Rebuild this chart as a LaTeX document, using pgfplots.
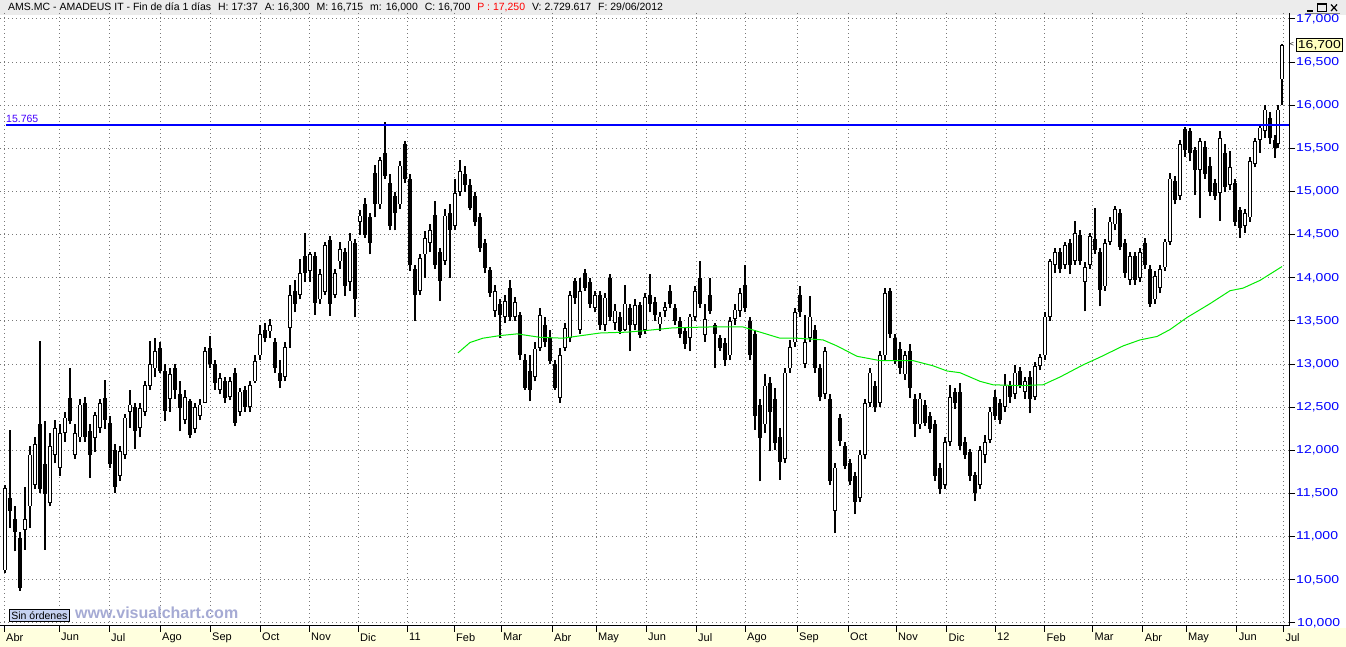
\documentclass[border=0pt]{standalone}
\usepackage{pgfplots}
\pgfplotsset{compat=1.18}
\usepackage{pgfplotstable}
\usepackage{fontspec}
\setmainfont{Liberation Sans}
\newfontfamily\ticfont[FakeStretch=1.22]{Liberation Sans}
\definecolor{vcblue}{RGB}{0,0,255}
\definecolor{lineblue}{RGB}{0,0,255}
\definecolor{lblblue}{RGB}{70,0,255}
\definecolor{gridgray}{RGB}{120,120,120}
\definecolor{stripyellow}{RGB}{255,255,222}
\definecolor{headgray}{RGB}{236,236,236}
\definecolor{magreen}{RGB}{0,235,0}
\definecolor{tagyellow}{RGB}{255,255,190}
\definecolor{sinblue}{RGB}{198,210,242}
\definecolor{wwwgray}{RGB}{165,170,212}

\pgfplotstableread{
x o h l c
5 10.61 11.60 10.58 11.56
10 11.45 12.24 11.10 11.30
15 11.20 11.35 10.83 11.05
20 10.98 11.05 10.37 10.40
25 11.08 11.57 10.85 11.20
30 11.35 12.05 11.10 11.95
35 11.60 12.15 11.55 12.07
40 12.30 13.27 11.50 11.55
45 11.84 12.34 10.85 11.49
50 11.39 12.20 11.35 12.05
55 11.95 12.35 11.85 12.26
60 11.80 12.30 11.70 12.20
65 12.20 12.45 12.10 12.38
70 12.61 12.96 12.30 12.34
75 11.95 12.30 11.90 12.20
80 12.15 12.60 12.10 12.53
85 12.55 12.62 12.10 12.15
90 12.22 12.30 11.68 11.95
95 12.14 12.45 11.98 12.41
100 12.26 12.60 12.20 12.55
105 12.61 12.82 12.25 12.35
110 12.32 12.40 11.80 11.84
115 12.00 12.07 11.51 11.58
120 11.70 12.05 11.65 11.99
125 11.95 12.42 11.90 12.38
130 12.45 12.70 12.26 12.53
135 12.50 12.55 12.01 12.22
140 12.26 12.55 12.15 12.49
145 12.45 12.80 12.40 12.76
150 12.75 13.27 12.70 13.00
155 12.95 13.30 12.85 13.15
160 13.19 13.25 12.90 12.92
165 12.92 13.00 12.34 12.46
170 12.60 12.95 12.45 12.88
175 12.96 13.00 12.60 12.70
180 12.65 12.80 12.22 12.49
185 12.35 12.70 12.30 12.62
190 12.57 12.60 12.14 12.18
195 12.25 12.55 12.20 12.50
200 12.40 12.60 12.35 12.53
205 12.55 13.20 12.55 13.15
210 13.19 13.33 12.95 13.00
215 13.00 13.05 12.70 12.78
220 12.70 12.90 12.65 12.84
225 12.80 12.85 12.55 12.61
230 12.62 12.85 12.58 12.80
235 12.90 12.95 12.28 12.32
240 12.45 12.72 12.40 12.68
245 12.70 12.75 12.45 12.50
250 12.50 12.80 12.45 12.76
255 12.80 13.10 12.78 13.03
260 13.10 13.45 13.05 13.35
265 13.40 13.48 13.25 13.30
270 13.38 13.52 13.30 13.45
275 13.25 13.30 12.90 12.95
280 12.90 13.05 12.72 12.80
285 12.85 13.25 12.80 13.20
290 13.42 13.92 13.19 13.80
295 13.85 13.98 13.60 13.70
300 13.80 14.22 13.75 14.05
305 14.25 14.52 13.95 14.06
310 14.08 14.30 13.95 14.27
315 14.25 14.30 13.57 13.71
320 13.75 14.10 13.70 14.04
325 13.84 14.42 13.80 14.38
330 14.44 14.48 13.56 13.70
335 13.80 14.10 13.76 14.05
340 14.19 14.42 14.10 14.33
345 14.30 14.35 13.79 13.90
350 13.95 14.52 13.85 14.43
355 14.40 14.45 13.54 13.75
360 14.65 14.78 14.50 14.72
365 14.85 14.93 14.46 14.50
370 14.70 14.75 14.27 14.40
375 15.22 15.31 14.70 14.85
380 14.85 15.40 14.80 15.36
385 15.45 15.81 15.15 15.18
390 15.10 15.20 14.55 14.60
395 14.95 15.00 14.55 14.75
400 14.85 15.35 14.80 15.30
405 15.55 15.59 15.10 15.15
410 15.15 15.20 14.08 14.15
415 14.10 14.15 13.50 13.80
420 13.85 14.28 13.80 14.23
425 14.27 14.54 14.00 14.46
430 14.40 14.62 14.30 14.55
435 14.73 14.89 14.10 14.15
440 14.30 14.35 13.73 13.96
445 14.20 14.80 14.15 14.72
450 14.75 14.85 14.00 14.55
455 14.60 15.14 14.55 14.98
460 15.00 15.37 14.95 15.24
465 15.20 15.30 15.00 15.08
470 15.08 15.15 14.78 14.81
475 14.95 15.00 14.60 14.65
480 14.70 14.75 14.30 14.35
485 14.40 14.45 14.05 14.11
490 14.09 14.12 13.78 13.82
495 13.62 13.92 13.55 13.85
500 13.70 13.75 13.30 13.57
505 13.55 13.80 13.48 13.73
510 13.88 13.98 13.50 13.55
515 13.55 13.78 13.50 13.72
520 13.57 13.60 13.05 13.10
525 13.05 13.12 12.70 12.72
530 12.92 13.10 12.57 12.70
535 12.85 13.25 12.80 13.18
540 13.19 13.65 13.15 13.57
545 13.45 13.55 13.20 13.26
550 13.30 13.40 13.00 13.03
555 13.00 13.05 12.70 12.72
560 12.61 13.19 12.55 13.10
565 13.19 13.48 13.15 13.42
570 13.30 13.85 13.25 13.80
575 13.96 14.00 13.70 13.77
580 13.40 14.00 13.35 13.85
585 14.06 14.10 13.85 13.88
590 13.95 14.00 13.65 13.70
595 13.65 13.85 13.60 13.80
600 13.80 13.85 13.40 13.45
605 13.45 13.82 13.38 13.77
610 14.00 14.04 13.50 13.55
615 13.48 13.70 13.40 13.62
620 13.55 13.60 13.35 13.38
625 13.40 13.92 13.38 13.70
630 13.65 13.70 13.15 13.45
635 13.45 13.75 13.40 13.68
640 13.68 13.72 13.30 13.34
645 13.40 13.82 13.35 13.78
650 13.80 14.04 13.60 13.70
655 13.72 13.78 13.50 13.57
660 13.46 13.60 13.38 13.55
665 13.62 13.72 13.55 13.66
670 13.85 13.92 13.65 13.70
675 13.65 13.70 13.45 13.50
680 13.50 13.55 13.30 13.35
685 13.38 13.42 13.18 13.23
690 13.30 13.58 13.15 13.55
695 13.55 13.90 13.50 13.85
700 14.00 14.19 13.65 13.70
705 13.34 13.70 13.26 13.52
710 13.80 14.00 13.58 13.62
715 13.45 13.48 12.96 13.35
720 13.30 13.34 13.15 13.19
725 13.25 13.30 12.98 13.05
730 13.10 13.55 13.05 13.50
735 13.52 13.70 13.45 13.63
740 13.62 13.88 13.55 13.82
745 13.92 14.15 13.60 13.65
750 13.50 13.55 13.05 13.10
755 13.35 13.40 12.24 12.40
760 12.53 12.60 11.64 12.14
765 12.30 12.88 12.20 12.75
770 12.78 12.85 11.99 12.45
775 12.60 12.72 12.00 12.08
780 12.15 12.26 11.66 11.87
785 11.90 12.95 11.85 12.90
790 12.95 13.28 12.90 13.20
795 13.25 13.65 13.20 13.60
800 13.80 13.90 13.55 13.60
805 13.00 13.57 12.95 13.25
810 13.30 13.79 13.25 13.55
815 13.40 13.45 12.90 12.95
820 12.95 13.00 12.57 12.62
825 12.65 13.20 12.60 13.15
830 12.60 12.65 11.60 11.65
835 11.30 11.85 11.04 11.80
840 12.38 12.42 12.05 12.11
845 12.05 12.10 11.78 11.82
850 11.85 11.90 11.60 11.65
855 11.70 11.75 11.26 11.40
860 11.45 12.00 11.40 11.95
865 11.95 12.60 11.90 12.55
870 12.55 12.96 12.50 12.90
875 12.75 12.80 12.45 12.50
880 12.55 13.15 12.50 13.10
885 13.10 13.88 13.05 13.82
890 13.85 13.88 13.30 13.35
895 13.30 13.35 13.00 13.05
900 13.18 13.25 12.88 12.95
905 12.88 13.15 12.82 13.10
910 13.15 13.23 12.61 12.72
915 12.60 12.65 12.16 12.30
920 12.30 12.66 12.25 12.60
925 12.52 12.58 12.28 12.32
930 12.40 12.45 12.20 12.25
935 12.30 12.35 11.65 11.70
940 11.80 11.85 11.49 11.55
945 11.60 12.15 11.55 12.10
950 12.10 12.76 12.05 12.62
955 12.68 12.72 12.48 12.55
960 12.68 12.78 12.00 12.05
965 12.10 12.15 11.90 11.95
970 11.98 12.02 11.65 11.70
975 11.72 11.75 11.41 11.50
980 11.60 12.05 11.55 12.00
985 11.95 12.18 11.85 12.10
990 12.12 12.50 12.08 12.45
995 12.62 12.70 12.35 12.40
1000 12.55 12.60 12.30 12.35
1005 12.50 12.88 12.45 12.75
1010 12.76 12.80 12.55 12.62
1015 12.65 12.99 12.60 12.90
1020 12.92 12.97 12.72 12.76
1025 12.68 12.85 12.60 12.80
1030 12.85 12.92 12.43 12.60
1035 12.62 13.02 12.58 12.98
1040 12.98 13.12 12.93 13.08
1045 13.10 13.60 13.05 13.55
1050 13.55 14.22 13.50 14.19
1055 14.15 14.35 14.05 14.30
1060 14.30 14.35 14.05 14.10
1065 14.15 14.42 14.10 14.38
1070 14.40 14.45 14.04 14.15
1075 14.20 14.66 14.15 14.52
1080 14.50 14.55 14.15 14.20
1085 13.95 14.18 13.61 14.12
1090 14.15 14.52 14.10 14.48
1095 14.45 14.81 14.28 14.32
1100 14.30 14.35 13.67 13.86
1105 13.90 14.45 13.85 14.40
1110 14.42 14.70 14.38 14.65
1115 14.62 14.83 14.55 14.80
1120 14.75 14.80 14.32 14.36
1125 14.40 14.45 14.00 14.05
1130 13.98 14.30 13.92 14.25
1135 14.25 14.30 13.92 13.98
1140 14.00 14.35 13.95 14.30
1145 14.40 14.46 14.10 14.15
1150 14.10 14.15 13.66 13.70
1155 13.75 14.08 13.70 14.02
1160 13.88 14.15 13.82 14.10
1165 14.12 14.45 14.08 14.42
1170 14.42 15.22 14.38 15.15
1175 15.12 15.18 14.85 14.90
1180 14.95 15.60 14.90 15.55
1185 15.72 15.75 15.40 15.48
1190 15.70 15.74 15.35 15.45
1195 15.48 15.52 14.96 15.25
1200 15.25 15.62 14.69 15.58
1205 15.52 15.58 15.15 15.20
1210 15.30 15.40 14.95 15.00
1215 15.10 15.15 14.90 14.95
1220 14.98 15.70 14.66 15.62
1225 15.45 15.55 15.00 15.05
1230 15.08 15.47 15.02 15.28
1235 15.10 15.15 14.60 14.65
1240 14.78 14.82 14.46 14.58
1245 14.60 14.80 14.52 14.75
1250 14.70 15.40 14.65 15.35
1255 15.32 15.62 15.28 15.58
1260 15.60 15.78 15.45 15.74
1265 15.70 16.00 15.62 15.95
1270 15.85 15.92 15.55 15.62
1275 15.60 15.65 15.39 15.50
1278 15.55 16.00 15.50 15.95
1282 16.30 16.715 16.00 16.70
}\candles

\pgfplotstableread{
x v
458 13.13
470 13.25
483 13.30
500 13.33
517 13.35
540 13.31
563 13.30
600 13.36
627 13.37
647 13.39
673 13.42
710 13.43
743 13.43
763 13.36
780 13.30
797 13.30
823 13.28
837 13.21
857 13.09
880 13.04
913 13.04
933 12.98
947 12.92
960 12.90
980 12.80
993 12.76
1020 12.75
1043 12.76
1060 12.85
1083 12.99
1100 13.08
1123 13.21
1140 13.28
1157 13.32
1170 13.40
1187 13.54
1210 13.70
1230 13.85
1243 13.88
1260 13.97
1282 14.13
}\mavg

\begin{document}
\begin{tikzpicture}[x=1pt,y=1pt]
\fill[white] (0,0) rectangle (1346,-647);
\fill[headgray] (0,0) rectangle (1346,-15);
\fill[stripyellow] (0,-628) rectangle (1346,-647);
\node[anchor=west, inner sep=0pt, font=\fontsize{10.5}{12}\selectfont] at (8,-7.5)
 {AMS.MC - AMADEUS IT - Fin de día 1 días\hspace{4pt} H: 17:37\hspace{4pt} A: 16,300\hspace{4pt} M: 16,715\hspace{4pt} m: 16,000\hspace{4pt} C: 16,700\hspace{4pt} \textcolor{red}{P : 17,250}\hspace{4pt} V: 2.729.617\hspace{4pt} F: 29/06/2012};
% window buttons
\draw[line width=1.2pt] (1307,-11) -- (1313,-11);
\draw[line width=1pt] (1317,-4) rectangle (1326,-11.5);
\draw[line width=1.6pt] (1317,-4.3) -- (1326,-4.3);
\draw[line width=1.2pt] (1331,-4.5) -- (1337,-11) (1331,-11) -- (1337,-4.5);
\draw[line width=0.6pt, gray] (1305,-13.5) -- (1340,-13.5);
\begin{axis}[
  at={(0,-15)}, anchor=north west,
  scale only axis, width=1289pt, height=613pt,
  xmin=0, xmax=1289, ymin=9.965, ymax=17.0695,
  axis x line*=bottom, axis y line*=right,
  axis line style={black, line width=1pt, -},
  clip=false,
  tick align=outside, major tick length=6pt,
  tick style={black, line width=1pt},
  xtick={4,59,109,160,210,260,309,358,407,454,501,552,596,646,696,745,797,848,896,946.5,995,1044.5,1092.5,1142.7,1186,1236.7,1283.4},
  xticklabels={Abr,Jun,Jul,Ago,Sep,Oct,Nov,Dic,11,Feb,Mar,Abr,May,Jun,Jul,Ago,Sep,Oct,Nov,Dic,12,Feb,Mar,Abr,May,Jun,Jul},
  xticklabel style={anchor=north west, inner sep=0pt, xshift=2pt, yshift=-1pt, font=\fontsize{11}{12}\selectfont, text=black},
  ytick={10,10.5,11,11.5,12,12.5,13,13.5,14,14.5,15,15.5,16,16.5,17},
  yticklabels={{},{10,500},{11,000},{11,500},{12,000},{12,500},{13,000},{13,500},{14,000},{14,500},{15,000},{15,500},{16,000},{16,500},{17,000}},
  yticklabel style={anchor=west, inner sep=0pt, xshift=1pt, font=\ticfont\fontsize{11.5}{12}\selectfont, text=vcblue},
  grid=major,
  major grid style={gridgray, line width=1pt, dash pattern=on 1pt off 3pt},
]
% wicks
\addplot[draw=none, mark=none, forget plot,
  error bars/.cd, y dir=plus, y explicit, error mark=none,
  error bar style={draw=black, line width=1.15pt}]
  table[x=x, y=l, y error expr=\thisrow{h}-\thisrow{l}] {\candles};
% bodies
\addplot[draw=none, mark=none, forget plot,
  error bars/.cd, y dir=both, y explicit, error mark=none,
  error bar style={draw=black, line width=4pt}]
  table[x=x, y expr=(\thisrow{o}+\thisrow{c})/2, y error expr={max(abs(\thisrow{o}-\thisrow{c})/2,0.006)}] {\candles};
% hollow interiors (close above open)
\addplot[draw=none, mark=none, forget plot,
  restrict expr to domain={\thisrow{c}-\thisrow{o}}{0.02:100},
  error bars/.cd, y dir=both, y explicit, error mark=none,
  error bar style={draw=white, line width=1.6pt}]
  table[x=x, y expr=(\thisrow{o}+\thisrow{c})/2, y error expr=(\thisrow{c}-\thisrow{o})/2-0.009] {\candles};
% moving average
\addplot[draw=magreen, line width=1pt, mark=none] table[x=x, y=v] {\mavg};
% resistance level at 15.765
\fill[lineblue] ([yshift=-1pt]axis cs:6,15.765) rectangle ([yshift=1pt]axis cs:1289,15.765);
\node[anchor=south west, inner sep=1pt, text=lblblue, font=\fontsize{10.5}{12}\selectfont] at (axis cs:5,15.79) {15.765};
\node[draw=black, line width=0.8pt, fill=tagyellow, anchor=west, inner sep=1.5pt, font=\ticfont\fontsize{11.5}{12}\selectfont] at ([xshift=7pt]axis cs:1289,16.70) {16,700};
\node[anchor=center, inner sep=0pt, font=\fontsize{7}{8}\selectfont] at ([xshift=3pt]axis cs:1289,16.70) {<};
\coordinate (tenk) at (axis cs:1289,10);
\end{axis}
\begin{scope}
\clip (1289,-15) rectangle (1346,-627.5);
\node[anchor=west, inner sep=0pt, text=vcblue, font=\ticfont\fontsize{11.5}{12}\selectfont] at ([xshift=8pt]tenk) {10,000};
\end{scope}
\node[draw=black, line width=0.8pt, fill=sinblue, anchor=west, inner sep=2pt, font=\fontsize{10.5}{12}\selectfont] at (9,-615.5) {Sin órdenes};
\node[anchor=west, inner sep=0pt, text=wwwgray, font=\bfseries\fontsize{16}{18}\selectfont] at (75,-613) {www.visualchart.com};
\pgfresetboundingbox
\path[use as bounding box] (0,0) rectangle (1346,-647);
\end{tikzpicture}
\end{document}
